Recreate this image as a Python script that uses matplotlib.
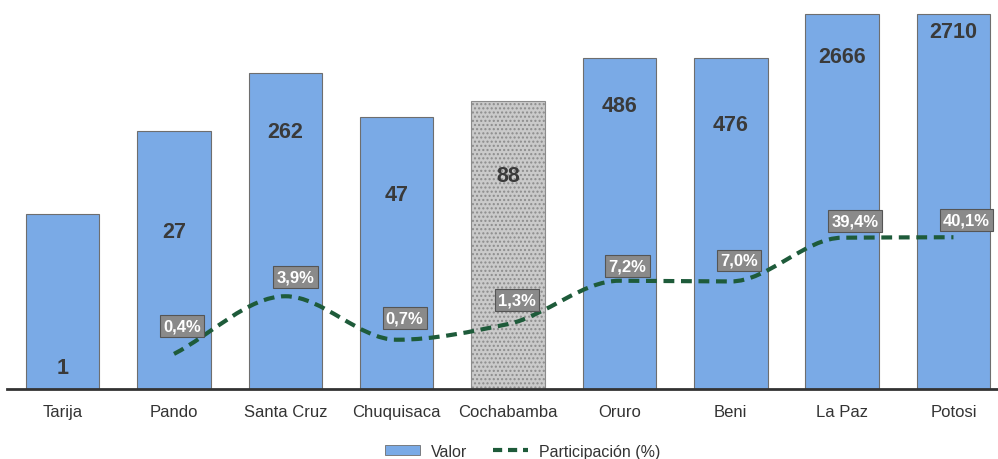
import numpy as np
import matplotlib
matplotlib.use("Agg")
import matplotlib.pyplot as plt
from matplotlib.patches import Patch, PathPatch
from matplotlib.path import Path
from matplotlib.lines import Line2D

departamentos = ["Tarija", "Pando", "Santa Cruz", "Chuquisaca", "Cochabamba",
                 "Oruro", "Beni", "La Paz", "Potosi"]
valor = [1, 27, 262, 47, 88, 486, 476, 2666, 2710]
participacion = [None, 0.4, 3.9, 0.7, 1.3, 7.2, 7.0, 39.4, 40.1]  # %

BLUE = "#7AAAE6"
GRAY = "#CACACA"
EDGE = "#6E6E6E"
INK = "#3A3A3A"
GREEN = "#1E5B3A"

plt.rcParams["font.family"] = ["Liberation Sans", "DejaVu Sans"]

fig = plt.figure(figsize=(9.98, 4.6), dpi=100)
ax = fig.add_axes([7 / 998, 70 / 460, 991 / 998, 390 / 460])

x = np.arange(len(departamentos))
colors = [GRAY if d == "Cochabamba" else BLUE for d in departamentos]
bars = ax.bar(x, valor, width=0.66, color=colors, edgecolor=EDGE, linewidth=0.8,
              bottom=0.001, zorder=2)
bars[departamentos.index("Cochabamba")].set_hatch("....")
bars[departamentos.index("Cochabamba")].set_edgecolor("#8C8C8C")

ax.set_yscale("log")
ax.set_ylim(0.001, 4900)
ax.set_xlim(-0.5, 8.4)

# value labels (pixel offset below bar top)
lab_off = [153, 101, 58, 78, 75, 48, 66, 42, 18]
for xi, v, off in zip(x, valor, lab_off):
    ax.annotate(str(v), (xi, v), xytext=(0, -off), textcoords="offset pixels",
                ha="center", va="center", fontsize=15.5, fontweight="bold",
                color=INK, zorder=5)

# participation line (share on the same log axis), monotone smooth curve
px = [xi for xi, p in zip(x, participacion) if p is not None]
py = [p / 100 for p in participacion if p is not None]
ly = np.log10(py)
d = np.diff(ly)
m = np.zeros(len(ly))
m[0], m[-1] = d[0], d[-1]
for k in range(1, len(ly) - 1):
    if d[k - 1] * d[k] > 0:
        m[k] = 2 * d[k - 1] * d[k] / (d[k - 1] + d[k])
verts = [(px[0], py[0])]
codes = [Path.MOVETO]
for i in range(len(px) - 1):
    x0, x1 = px[i], px[i + 1]
    h = x1 - x0
    c1 = (x0 + h / 3, 10 ** (ly[i] + m[i] / 3))
    c2 = (x1 - h / 3, 10 ** (ly[i + 1] - m[i + 1] / 3))
    verts += [c1, c2, (x1, py[i + 1])]
    codes += [Path.CURVE4] * 3
ax.add_patch(PathPatch(Path(verts, codes), facecolor="none", edgecolor=GREEN,
                       lw=3, linestyle=(0, (2.6, 1.6)), zorder=3))

pct_off = [(8, 28), (10, 19), (8, 22), (9, 24), (8, 15), (8, 21), (13, 17), (13, 17)]
pct_vals = [p for p in participacion if p is not None]
for xi, p, yv, (dx, dy) in zip(px, pct_vals, py, pct_off):
    ax.annotate(f"{p:.1f}%".replace(".", ","), (xi, yv), xytext=(dx, dy),
                textcoords="offset pixels", ha="center", va="center",
                fontsize=12, fontweight="bold", color="white", zorder=6,
                bbox=dict(boxstyle="square,pad=0.2", fc="#8A8A8A", ec="#555555", lw=0.8))

for s in ["top", "right", "left"]:
    ax.spines[s].set_visible(False)
ax.spines["bottom"].set_linewidth(2)
ax.spines["bottom"].set_color("#333333")
ax.set_yticks([])
ax.yaxis.set_minor_locator(matplotlib.ticker.NullLocator())
ax.set_xticks(x)
ax.set_xticklabels(departamentos, fontsize=12, color="#333333")
ax.tick_params(axis="x", length=0, pad=11)

handles = [Patch(facecolor=BLUE, edgecolor=EDGE, lw=0.6),
           Line2D([0], [0], color=GREEN, lw=3, linestyle=(0, (2.2, 1.4)))]
fig.legend(handles, ["Valor", "Participación (%)"], loc="center",
           bbox_to_anchor=(0.524, 0.017), ncol=2, frameon=False, fontsize=11.5,
           handlelength=2.2, handleheight=0.6, handletextpad=0.7,
           columnspacing=1.6, labelcolor="#333333")

fig.savefig("out.png", dpi=100, facecolor="white")
